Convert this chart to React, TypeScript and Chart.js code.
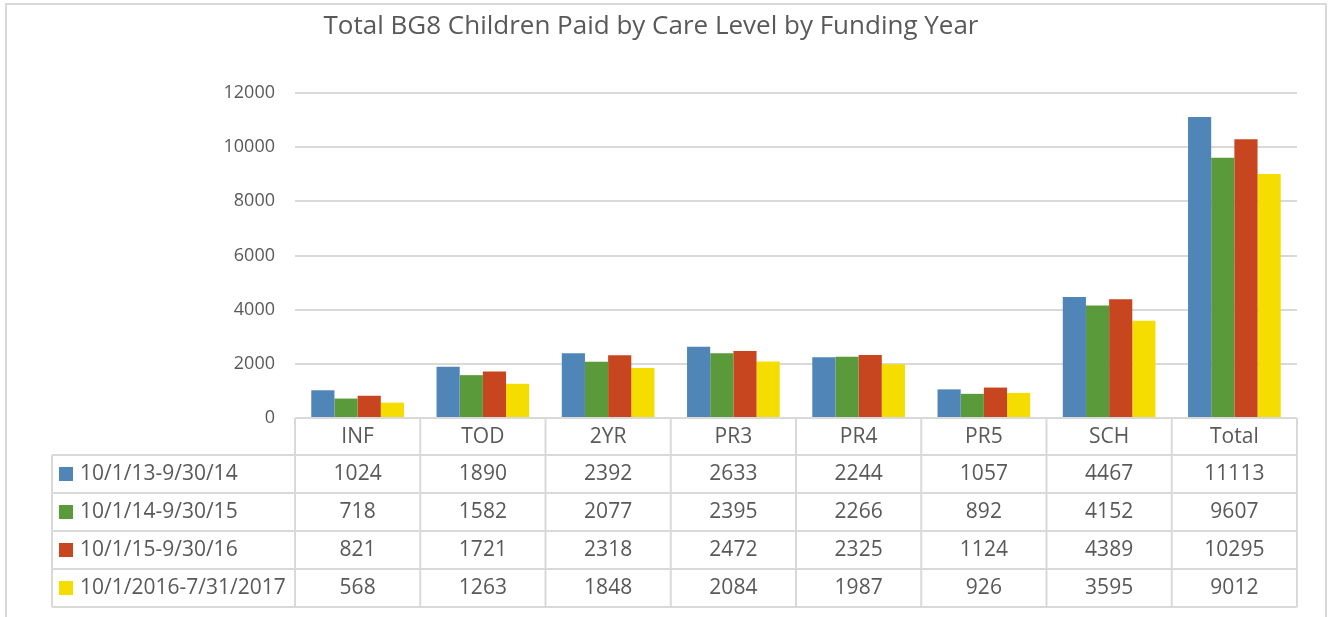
import React, { useEffect, useRef } from "react";
import { Chart, registerables } from "chart.js";

Chart.register(...registerables);

const TITLE = "Total BG8 Children Paid by Care Level by Funding Year";
const categories = ["INF", "TOD", "2YR", "PR3", "PR4", "PR5", "SCH", "Total"];
const seriesNames = ["10/1/13-9/30/14", "10/1/14-9/30/15", "10/1/15-9/30/16", "10/1/2016-7/31/2017"];
const series1 = [1024, 1890, 2392, 2633, 2244, 1057, 4467, 11113];
const series2 = [718, 1582, 2077, 2395, 2266, 892, 4152, 9607];
const series3 = [821, 1721, 2318, 2472, 2325, 1124, 4389, 10295];
const series4 = [568, 1263, 1848, 2084, 1987, 926, 3595, 9012];
const seriesColors = ["#4F86B7", "#5B9A3A", "#C8461F", "#F5DD00"];
const yTicks = [0, 2000, 4000, 6000, 8000, 10000, 12000];

const FONT = "'Open Sans', 'Noto Sans', sans-serif";
const TEXT = "#595959";
const LINE = "#D9D9D9";

const tablePlugin = {
  id: "dataTable",
  afterDraw(chart: any) {
    const ctx = chart.ctx as CanvasRenderingContext2D;
    const x = chart.scales.x;
    const area = chart.chartArea;
    const allSeries = [series1, series2, series3, series4];
    ctx.save();
    // outer frame
    ctx.strokeStyle = LINE;
    ctx.lineWidth = 2;
    ctx.beginPath();
    ctx.moveTo(6, 640);
    ctx.lineTo(6, 4);
    ctx.lineTo(1326, 4);
    ctx.lineTo(1326, 640);
    ctx.stroke();

    // title
    ctx.fillStyle = TEXT;
    ctx.font = `26px ${FONT}`;
    ctx.textAlign = "center";
    ctx.textBaseline = "middle";
    ctx.fillText(TITLE, 651, 27);

    // table geometry
    const left = area.left;
    const right = area.right;
    const colW = (right - left) / categories.length;
    const rowTops = [area.bottom, 455, 493, 531, 569, 607];
    const tableLeft = 52;

    ctx.strokeStyle = LINE;
    ctx.lineWidth = 2;
    ctx.beginPath();
    ctx.moveTo(left, rowTops[0]);
    ctx.lineTo(right, rowTops[0]);
    for (let r = 1; r < rowTops.length; r++) {
      ctx.moveTo(tableLeft, rowTops[r]);
      ctx.lineTo(right, rowTops[r]);
    }
    ctx.moveTo(tableLeft, rowTops[1]);
    ctx.lineTo(tableLeft, rowTops[5]);
    for (let c = 0; c <= categories.length; c++) {
      const cx = left + c * colW;
      ctx.moveTo(cx, rowTops[0]);
      ctx.lineTo(cx, rowTops[5]);
    }
    ctx.stroke();

    ctx.font = `21px ${FONT}`;
    ctx.fillStyle = TEXT;
    ctx.textAlign = "center";
    ctx.textBaseline = "middle";
    categories.forEach((cat, i) => {
      const cx = x.getPixelForValue(i);
      ctx.fillText(cat, cx, (rowTops[0] + rowTops[1]) / 2 + 1);
    });
    allSeries.forEach((vals, r) => {
      const cy = (rowTops[r + 1] + rowTops[r + 2]) / 2;
      vals.forEach((v, i) => {
        const cx = x.getPixelForValue(i);
        ctx.fillStyle = TEXT;
        ctx.textAlign = "center";
        ctx.fillText(String(v), cx, cy);
      });
      ctx.fillStyle = seriesColors[r];
      ctx.fillRect(59, cy - 7, 14, 14);
      ctx.fillStyle = TEXT;
      ctx.textAlign = "left";
      ctx.fillText(seriesNames[r], 80, cy);
    });
    ctx.restore();
  },
};

export default function App() {
  const ref = useRef<HTMLCanvasElement | null>(null);
  useEffect(() => {
    document.body.style.margin = "0";
    let chart: Chart | null = null;
    let cancelled = false;
    const make = () => {
      if (cancelled || !ref.current) return;
      chart = new Chart(ref.current, {
        type: "bar",
        data: {
          labels: categories,
          datasets: [series1, series2, series3, series4].map((d, i) => ({
            label: seriesNames[i],
            data: d,
            backgroundColor: seriesColors[i],
            borderWidth: 0,
            barPercentage: 1,
            categoryPercentage: 0.74,
          })),
        },
        options: {
          responsive: false,
          animation: false,
          devicePixelRatio: 1,
          layout: { padding: { left: 0, right: 33, top: 93, bottom: 199 } },
          plugins: {
            legend: { display: false },
            title: { display: false },
            tooltip: { enabled: false },
          },
          scales: {
            x: { display: false },
            y: {
              min: 0,
              max: 12000,
              afterFit(scale: any) {
                scale.width = 295;
              },
              afterBuildTicks(scale: any) {
                scale.ticks = yTicks.map((v) => ({ value: v }));
              },
              border: { display: false },
              grid: { color: LINE, lineWidth: 2, drawTicks: false },
              ticks: {
                padding: 20,
                color: TEXT,
                font: { family: FONT, size: 18 },
                callback: (v: any) => String(v),
              },
            },
          },
        },
        plugins: [tablePlugin],
      });
    };
    if ((document as any).fonts && (document as any).fonts.load) {
      Promise.all([
        (document as any).fonts.load(`26px 'Open Sans'`),
        (document as any).fonts.load(`18px 'Open Sans'`),
      ]).then(make, make);
    } else {
      make();
    }
    return () => {
      cancelled = true;
      if (chart) chart.destroy();
    };
  }, []);
  return (
    <div style={{ position: "absolute", left: 0, top: 0, width: 1330, height: 617, background: "#fff" }}>
      <canvas ref={ref} width={1330} height={617} style={{ display: "block" }} />
    </div>
  );
}
